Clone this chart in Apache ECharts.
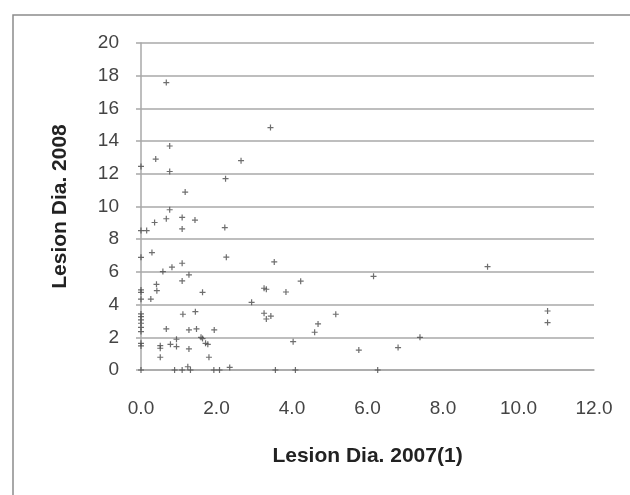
<!DOCTYPE html>
<html>
<head>
<meta charset="utf-8">
<script src="https://cdn.jsdelivr.net/npm/echarts@6/dist/echarts.min.js"></script>
<style>
  html, body { margin: 0; padding: 0; background: #fff; }
  #container { width: 630px; height: 495px; }
</style>
</head>
<body>
<div id="container"></div>
<script>
// lesion diameters, paired by index
const lesion2007 = [
  0.67, 3.43, 0.76, 0.39, 0, 2.65, 0.76, 2.24, 1.17, 0.76,
  0.67, 1.09, 1.43, 0.36, 1.09, 2.22, 0, 0.15, 0.29, 0,
  2.26, 3.53, 9.18, 1.09, 0.82, 0.58, 1.27, 6.16, 1.09, 4.23,
  0.41, 0.42, 0, 0, 1.63, 3.26, 3.32, 3.84, 0.26, 0,
  2.93, 1.44, 1.11, 3.26, 3.44, 3.32, 5.16, 10.77, 10.77, 4.69,
  4.6, 0, 0, 0, 0, 0, 0, 0.67, 1.27, 1.47,
  1.94, 1.59, 1.63, 0.94, 7.39, 1.71, 1.77, 4.03, 0.78, 0.51,
  0.51, 0.94, 1.27, 5.77, 6.81, 0, 0, 0.51, 1.8, 0.89,
  1.09, 1.24, 1.31, 1.93, 2.08, 2.35, 3.56, 4.09, 6.27, 0
];
const lesion2008 = [
  17.58, 14.83, 13.7, 12.9, 12.45, 12.8, 12.14, 11.7, 10.88, 9.8,
  9.25, 9.33, 9.17, 9.02, 8.63, 8.71, 8.53, 8.53, 7.18, 6.89,
  6.9, 6.61, 6.32, 6.53, 6.29, 6.02, 5.82, 5.73, 5.45, 5.43,
  5.24, 4.85, 4.9, 4.75, 4.75, 5.0, 4.94, 4.77, 4.34, 4.33,
  4.14, 3.57, 3.41, 3.47, 3.3, 3.12, 3.41, 3.61, 2.9, 2.82,
  2.31, 3.43, 3.26, 3.06, 2.86, 2.61, 2.35, 2.51, 2.45, 2.51,
  2.45, 2.0, 1.92, 1.88, 2.0, 1.63, 1.57, 1.73, 1.57, 1.49,
  1.33, 1.43, 1.29, 1.22, 1.37, 1.63, 1.47, 0.78, 0.78, 0,
  0, 0.2, 0, 0, 0, 0.16, 0, 0, 0, 0
];

const xTitle = "Lesion Dia. 2007(1)";
const yTitle = "Lesion Dia. 2008";

const points = lesion2007.map((x, i) => [x, lesion2008[i]]);
const gridColor = "#a8a8a8";
const labelFont = "Liberation Sans";

const chart = echarts.init(document.getElementById("container"));
chart.setOption({
  animation: false,
  backgroundColor: "#fff",
  graphic: [
    {
      type: "rect",
      shape: { x: 13, y: 15, width: 640, height: 500 },
      style: { fill: "none", stroke: "#8c8c8c", lineWidth: 1.5 },
      silent: true,
    },
  ],
  grid: { left: 141, right: 36, top: 43, bottom: 125 },
  xAxis: {
    type: "value",
    min: 0,
    max: 12,
    interval: 2,
    name: xTitle,
    nameLocation: "middle",
    nameGap: 76,
    nameTextStyle: {
      fontFamily: labelFont,
      fontWeight: "bold",
      fontSize: 21,
      color: "#222",
    },
    axisLine: { show: true, lineStyle: { color: gridColor, width: 1.5 } },
    axisTick: { show: false },
    splitLine: { show: false },
    axisLabel: {
      margin: 29,
      fontFamily: labelFont,
      fontSize: 19,
      color: "#444",
      formatter: (v) => v.toFixed(1),
    },
  },
  yAxis: {
    type: "value",
    min: 0,
    max: 20,
    interval: 2,
    name: yTitle,
    nameLocation: "middle",
    nameGap: 70,
    nameTextStyle: {
      fontFamily: labelFont,
      fontWeight: "bold",
      fontSize: 21,
      color: "#222",
    },
    axisLine: { show: true, lineStyle: { color: gridColor, width: 1.5 } },
    axisTick: {
      show: true,
      length: 5,
      lineStyle: { color: gridColor, width: 1.5 },
    },
    splitLine: { show: true, lineStyle: { color: gridColor, width: 1.5 } },
    axisLabel: {
      margin: 22,
      fontFamily: labelFont,
      fontSize: 19,
      color: "#444",
    },
  },
  series: [
    {
      type: "scatter",
      data: points,
      symbol: "path://M4,0h2v4h4v2h-4v4h-2v-4h-4v-2h4z",
      symbolSize: 6,
      itemStyle: { color: "#4a4a4a" },
    },
  ],
});
</script>
</body>
</html>
